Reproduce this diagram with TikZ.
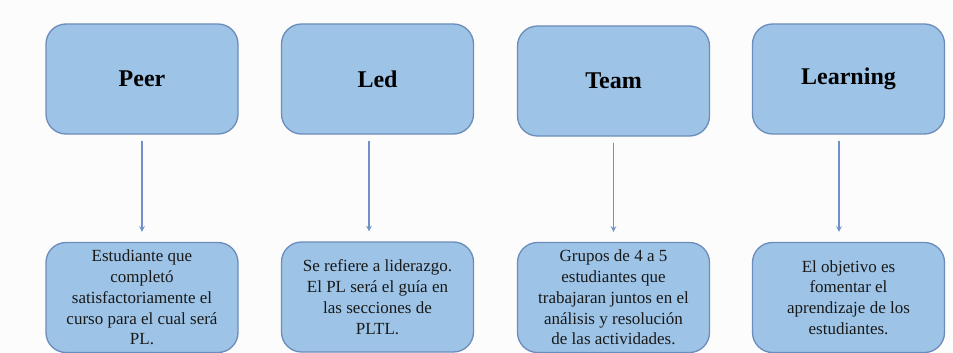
\documentclass[tikz,border=0pt]{standalone}
\usepackage{fontspec}
\setmainfont{Liberation Serif}
\usepackage{tikz}
\usetikzlibrary{calc}

\definecolor{boxfill}{RGB}{157,195,230}
\definecolor{boxline}{RGB}{108,140,188}
\definecolor{arrowline}{RGB}{110,145,200}
\definecolor{paper}{RGB}{252,252,252}

\begin{document}
\begin{tikzpicture}[x=1pt, y=-1pt,
    titlebox/.style={draw=boxline, line width=1.3pt, fill=boxfill, rounded corners=20pt,
        minimum width=192pt, minimum height=110pt, inner sep=0pt,
        font=\fontsize{24}{28}\selectfont\bfseries},
    textbox/.style={draw=boxline, line width=1.3pt, fill=boxfill, rounded corners=20pt,
        minimum width=192pt, minimum height=110pt, inner sep=0pt, align=center,
        text=black!90, font=\fontsize{17}{20.8}\selectfont},
    arr/.style={->, >=stealth, draw=arrowline, line width=1.5pt,
        shorten <=6pt, shorten >=10pt}]

    % -------------------------
    % Page
    % -------------------------
    \fill[paper] (0,0) rectangle (953,353);
    \useasboundingbox (0,0) rectangle (953,353);

    % -------------------------
    % Top boxes
    % -------------------------
    \node[titlebox] (peer) at (142,79) {Peer};
    \node[titlebox] (led) at (377.5,79) {Led};
    \node[titlebox] (team) at (613.5,81) {Team};
    \node[titlebox] (learning) at (848.5,79) {Learning};

    % -------------------------
    % Bottom boxes
    % -------------------------
    \node[textbox] (peertxt) at (142,297.5)
        {Estudiante que\\ complet\'o\\ satisfactoriamente el\\ curso para el cual ser\'a\\ PL.};
    \node[textbox] (ledtxt) at (377.5,297)
        {Se refiere a liderazgo.\\ El PL ser\'a el gu\'ia en\\ las secciones de\\ PLTL.};
    \node[textbox] (teamtxt) at (613.5,297.5)
        {Grupos de 4 a 5\\ estudiantes que\\ trabajaran juntos en el\\ an\'alisis y resoluci\'on\\ de las actividades.};
    \node[textbox] (learningtxt) at (848.5,297.5)
        {El objetivo es\\ fomentar el\\ aprendizaje de los\\ estudiantes.};

    % -------------------------
    % Arrows
    % -------------------------
    \draw[arr] (peer.south) -- (peertxt.north);
    \draw[arr] ($(led.south)+(-8.5,0)$) -- ($(ledtxt.north)+(-8.5,0)$);
    \draw[arr] (team.south) -- (teamtxt.north);
    \draw[arr] ($(learning.south)+(-9.5,0)$) -- ($(learningtxt.north)+(-9.5,0)$);

\end{tikzpicture}
\end{document}
